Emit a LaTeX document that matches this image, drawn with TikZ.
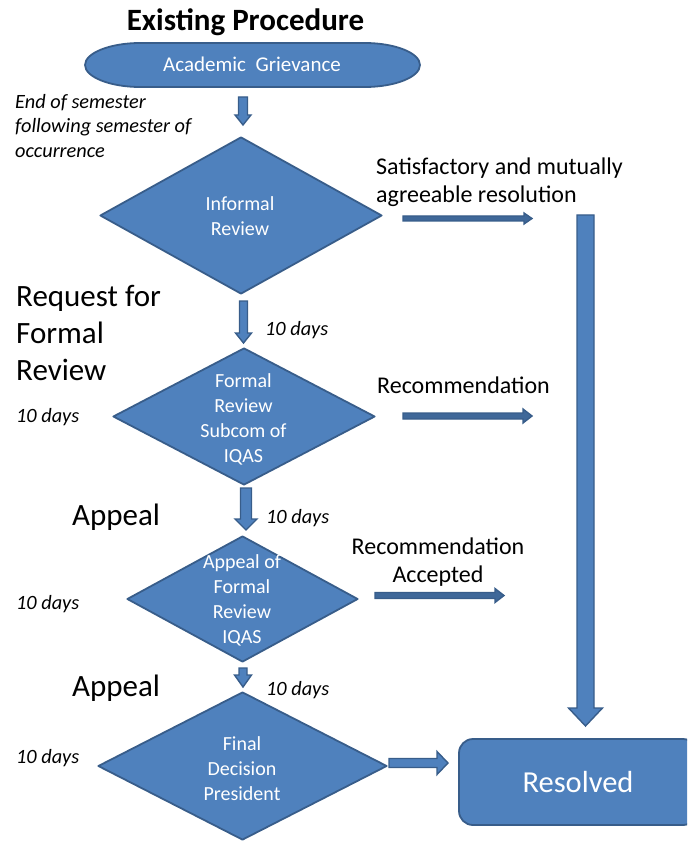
\documentclass[tikz,border=0pt]{standalone}
\usepackage{fontspec}
\setmainfont{Carlito}
\usetikzlibrary{calc,shapes.geometric}
\definecolor{ofill}{HTML}{4F81BD}
\definecolor{oline}{HTML}{385D8A}
\newcommand\blockarr[6][]{%
  \coordinate (ba-h) at ($(#3)!#6!(#2)$);
  \filldraw[barrow,#1] ($(#2)!#4!90:(#3)$) -- ($(ba-h)!#4!-90:(#2)$) -- ($(ba-h)!#5!-90:(#2)$) -- (#3) -- ($(ba-h)!#5!90:(#2)$) -- ($(ba-h)!#4!90:(#2)$) -- ($(#2)!#4!-90:(#3)$) -- cycle;}
\tikzset{
  shp/.style={fill=ofill, draw=oline, line width=1.8pt, line join=round},
  barrow/.style={fill=ofill, draw=oline, line width=1.4pt, line join=miter},
  thinarrow/.style={fill=oline!70!ofill},
  dia/.style={diamond, shp, inner sep=0pt},
  wtxt/.style={text=white, font=\fontsize{20}{25}\selectfont, inner sep=0pt, align=center},
  big/.style={text=black, font=\fontsize{31}{36.6}\selectfont, inner sep=0pt, align=left},
  mid/.style={text=black, font=\fontsize{24}{28}\selectfont, inner sep=0pt},
  ital/.style={text=black, font=\fontsize{20.3}{24.5}\selectfont\itshape, inner sep=0pt, align=left},
  ttl/.style={text=black, font=\fontsize{31}{36}\selectfont\bfseries, inner sep=0pt},
}
\begin{document}
\begin{tikzpicture}[x=1pt, y=-1pt]
\useasboundingbox (0,0) rectangle (687,842);
\clip (0,0) rectangle (687,842);
% title
\node[ttl, anchor=base] (title) at (245.5,31) {Existing Procedure};
% start terminator
\filldraw[shp] (140,43) -- (365,43) .. controls (395,43) and (420,53) .. (420,65) .. controls (420,77) and (395,87) .. (365,87) -- (140,87) .. controls (110,87) and (85,77) .. (85,65) .. controls (85,53) and (110,43) .. (140,43) -- cycle;
\node[wtxt, anchor=base, font=\fontsize{21}{25}\selectfont] (grv) at (252,72) {Academic\ \ Grievance};
% diamonds
\node[dia, minimum width=282pt, minimum height=157pt] (d1) at (241,215.5) {};
\node[dia, minimum width=262pt, minimum height=137pt] (d2) at (244,416.5) {};
\node[dia, minimum width=231pt, minimum height=126pt] (d3) at (242.5,599) {};
\node[dia, minimum width=289pt, minimum height=148pt] (d4) at (242.5,766) {};
% multi-line nodes: base anchor = baseline of last line
\node[wtxt, anchor=base] (t1) at (240,236) {Informal\\Review};
\node[wtxt, anchor=base] (t2) at (243.5,462) {Formal\\Review\\Subcom of\\IQAS};
\node[wtxt, anchor=base] (t3) at (242,643) {Appeal of\\Formal\\Review\\IQAS};
\node[wtxt, anchor=base] (t4) at (242,800) {Final\\Decision\\President};
% resolved
\node[shp, rounded corners=14pt, minimum width=238pt, minimum height=86pt, inner sep=0pt, text=white, font=\fontsize{30.5}{36}\selectfont] (res) at (578,782) {Resolved};
% left labels
\node[ital, anchor=base west] (eos) at (15,157.5) {End of semester\\following semester of\\occurrence};
\node[big, anchor=base west] (req) at (16,380) {Request for\\Formal\\Review};
\node[big, anchor=base west] (ap1) at (72,525) {Appeal};
\node[big, anchor=base west] (ap2) at (72,696) {Appeal};
\node[ital, anchor=base west] (dl1) at (16,422) {10 days};
\node[ital, anchor=base west] (dl2) at (16,609) {10 days};
\node[ital, anchor=base west] (dl3) at (16,763) {10 days};
\node[ital, anchor=base west] (dr1) at (265,335) {10 days};
\node[ital, anchor=base west] (dr2) at (266,523) {10 days};
\node[ital, anchor=base west] (dr3) at (266,695) {10 days};
% right labels
\node[mid, anchor=base west, align=left] (sat) at (376,203) {Satisfactory and mutually\\agreeable resolution};
\node[mid, anchor=base west] (rec) at (377,393) {Recommendation};
\node[mid, anchor=base, align=center] (reca) at (438,582) {Recommendation\\Accepted};
% arrow end points
\coordinate (a1s) at (243,97);   \coordinate (a1e) at (243,125);
\coordinate (a2s) at (243.5,301); \coordinate (a2e) at (243.5,343);
\coordinate (a3s) at (246,488);  \coordinate (a3e) at (246,530);
\coordinate (a4s) at (243,668);  \coordinate (a4e) at (243,687);
\coordinate (a5s) at (389,763);  \coordinate (a5e) at (448,763);
\coordinate (a6s) at (403,218.5);  \coordinate (a6e) at (532,218.5);
\coordinate (a7s) at (403,416);  \coordinate (a7e) at (532,416);
\coordinate (a8s) at (375,595.5);  \coordinate (a8e) at (504,595.5);
\coordinate (a9s) at (585.5,215); \coordinate (a9e) at (585.5,726);
\blockarr{a1s}{a1e}{4.5pt}{8pt}{10pt}
\blockarr{a2s}{a2e}{4pt}{8pt}{10pt}
\blockarr{a3s}{a3e}{5.5pt}{11pt}{11pt}
\blockarr{a4s}{a4e}{4pt}{8.5pt}{12pt}
\blockarr{a5s}{a5e}{4.5pt}{11.5pt}{11pt}
\blockarr[thinarrow]{a6s}{a6e}{2.5pt}{5.5pt}{8pt}
\blockarr[thinarrow]{a7s}{a7e}{3pt}{7pt}{9pt}
\blockarr[thinarrow]{a8s}{a8e}{3pt}{7pt}{9pt}
\blockarr{a9s}{a9e}{8.5pt}{17pt}{18pt}
\end{tikzpicture}
\end{document}
